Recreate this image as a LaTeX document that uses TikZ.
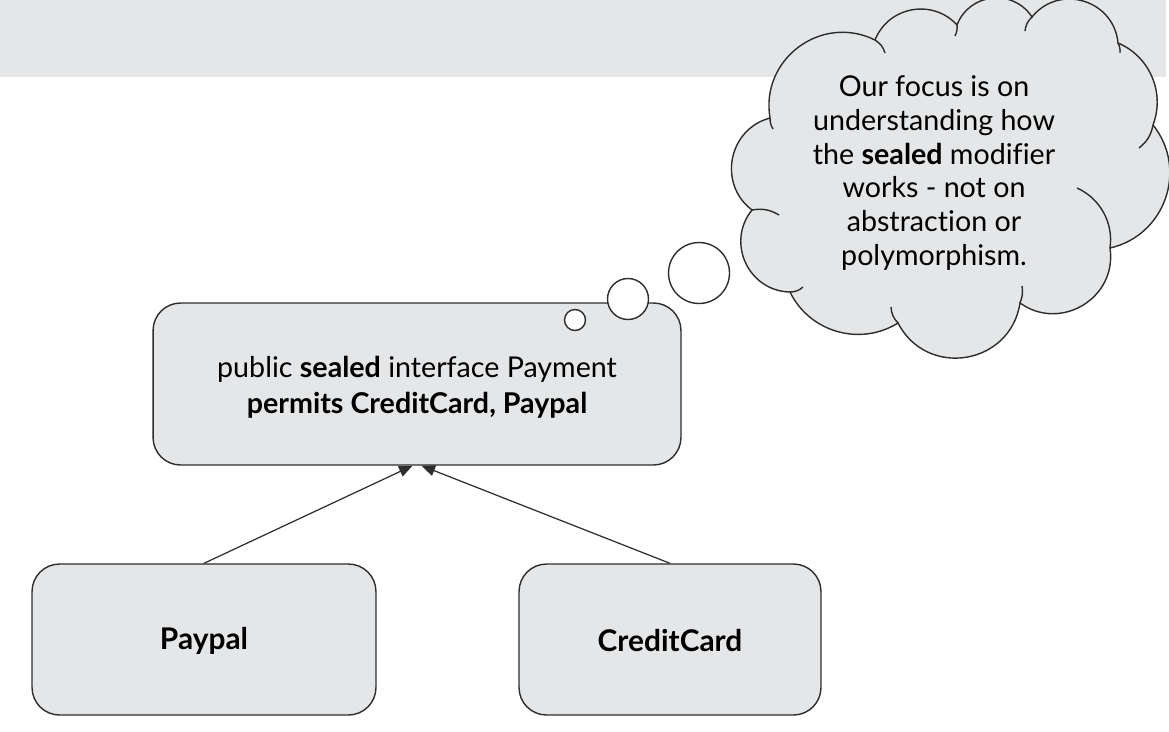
\documentclass[tikz,border=0pt]{standalone}
\usepackage{fontspec}
\setmainfont{Lato}[Ligatures=NoCommon]
\usetikzlibrary{arrows.meta}
\definecolor{panelgray}{RGB}{228,230,232}
\definecolor{linegray}{RGB}{45,45,45}
\begin{document}
\begin{tikzpicture}[x=0.02cm, y=-0.02cm,
    classbox/.style={rectangle, rounded corners=0.55cm, draw=linegray, fill=panelgray, line width=0.8pt, inner sep=0pt},
    bubble/.style={circle, draw=linegray, fill=white, line width=0.8pt, inner sep=0pt},
    cloudline/.style={draw=linegray, line width=0.8pt},
    label/.style={font=\fontsize{16.3}{20.5}\selectfont, align=center},
    classname/.style={font=\fontsize{17}{20}\selectfont\bfseries},
    implements/.style={-{Triangle[length=0.27cm, width=0.22cm]}, line width=0.7pt, draw=linegray}
]
\useasboundingbox (0,0) rectangle (1169,731);
\clip (0,0) rectangle (1169,731);

% Title band
\fill[panelgray] (0,0) rectangle (1166,77);

% Interface
\node[classbox, minimum width=10.56cm, minimum height=3.24cm] (payment) at (417,384) {};
\node[label] (paymenttext) at (417,387) {public \textbf{sealed} interface Payment\\ \textbf{permits CreditCard, Paypal}};

% Implementations
\node[classbox, minimum width=6.88cm, minimum height=3.02cm] (paypal) at (204,639.5) {};
\node[classname] at (204,641) {Paypal};
\node[classbox, minimum width=6.04cm, minimum height=3.02cm] (creditcard) at (670,639.5) {};
\node[classname] at (670,641) {CreditCard};

% Thought bubbles
\node[bubble, minimum size=0.42cm] (b1) at (575,320) {};
\node[bubble, minimum size=0.82cm] (b2) at (628,299) {};
\node[bubble, minimum size=1.22cm] (b3) at (699,273) {};

% Cloud
\coordinate (j1) at (770,118);
\coordinate (j2) at (875,40);
\coordinate (j3) at (957,25);
\coordinate (j4) at (1032,17);
\coordinate (j5) at (1118,43);
\coordinate (j6) at (1153,125);
\coordinate (j7) at (1110,248);
\coordinate (j8) at (1020,303);
\coordinate (j9) at (898,323);
\coordinate (j10) at (790,292);
\coordinate (j11) at (752,210);
\path[cloudline, fill=panelgray] (j1) to[bend left=63, looseness=1.17] (j2)
    to[bend left=58, looseness=1.11] (j3) to[bend left=63, looseness=1.17] (j4)
    to[bend left=68, looseness=1.23] (j5) to[bend left=44, looseness=0.99] (j6)
    to[bend left=58, looseness=1.11] (j7) to[bend left=67, looseness=1.22] (j8)
    to[bend left=72, looseness=1.30] (j9) to[bend left=48, looseness=1.02] (j10)
    to[bend left=64, looseness=1.18] (j11) to[bend left=64, looseness=1.18] (j1) -- cycle;
\draw[cloudline] (j1) to[bend right=15] (773,129);
\draw[cloudline] (j2) to[bend left=20] (885,53);
\draw[cloudline] (j3) to[bend left=15] (955,36);
\draw[cloudline] (j4) to[bend right=20] (1025,31);
\draw[cloudline] (j5) to[bend left=15] (1120,53);
\draw[cloudline] (j6) to[bend left=20] (1139,148);
\draw[cloudline] (j7) to[bend right=37, looseness=0.95] (1077,188);
\draw[cloudline] (j8) to[bend right=15] (1022,286);
\draw[cloudline] (j9) to[bend left=20] (891,307);
\draw[cloudline] (j10) to[bend right=20] (803,287);
\draw[cloudline] (j11) to[bend left=20] (779,215);
\node[label, font=\fontsize{16.3}{19.35}\selectfont] (focus) at (934,173) {Our focus is on\\ understanding how\\ the \textbf{sealed} modifier\\ works - not on\\ abstraction or\\ polymorphism.};

% Connections
\draw[implements] (paypal.north) -- ([xshift=-0.09cm]payment.south);
\draw[implements] (creditcard.north) -- ([xshift=0.09cm]payment.south);

\end{tikzpicture}
\end{document}
